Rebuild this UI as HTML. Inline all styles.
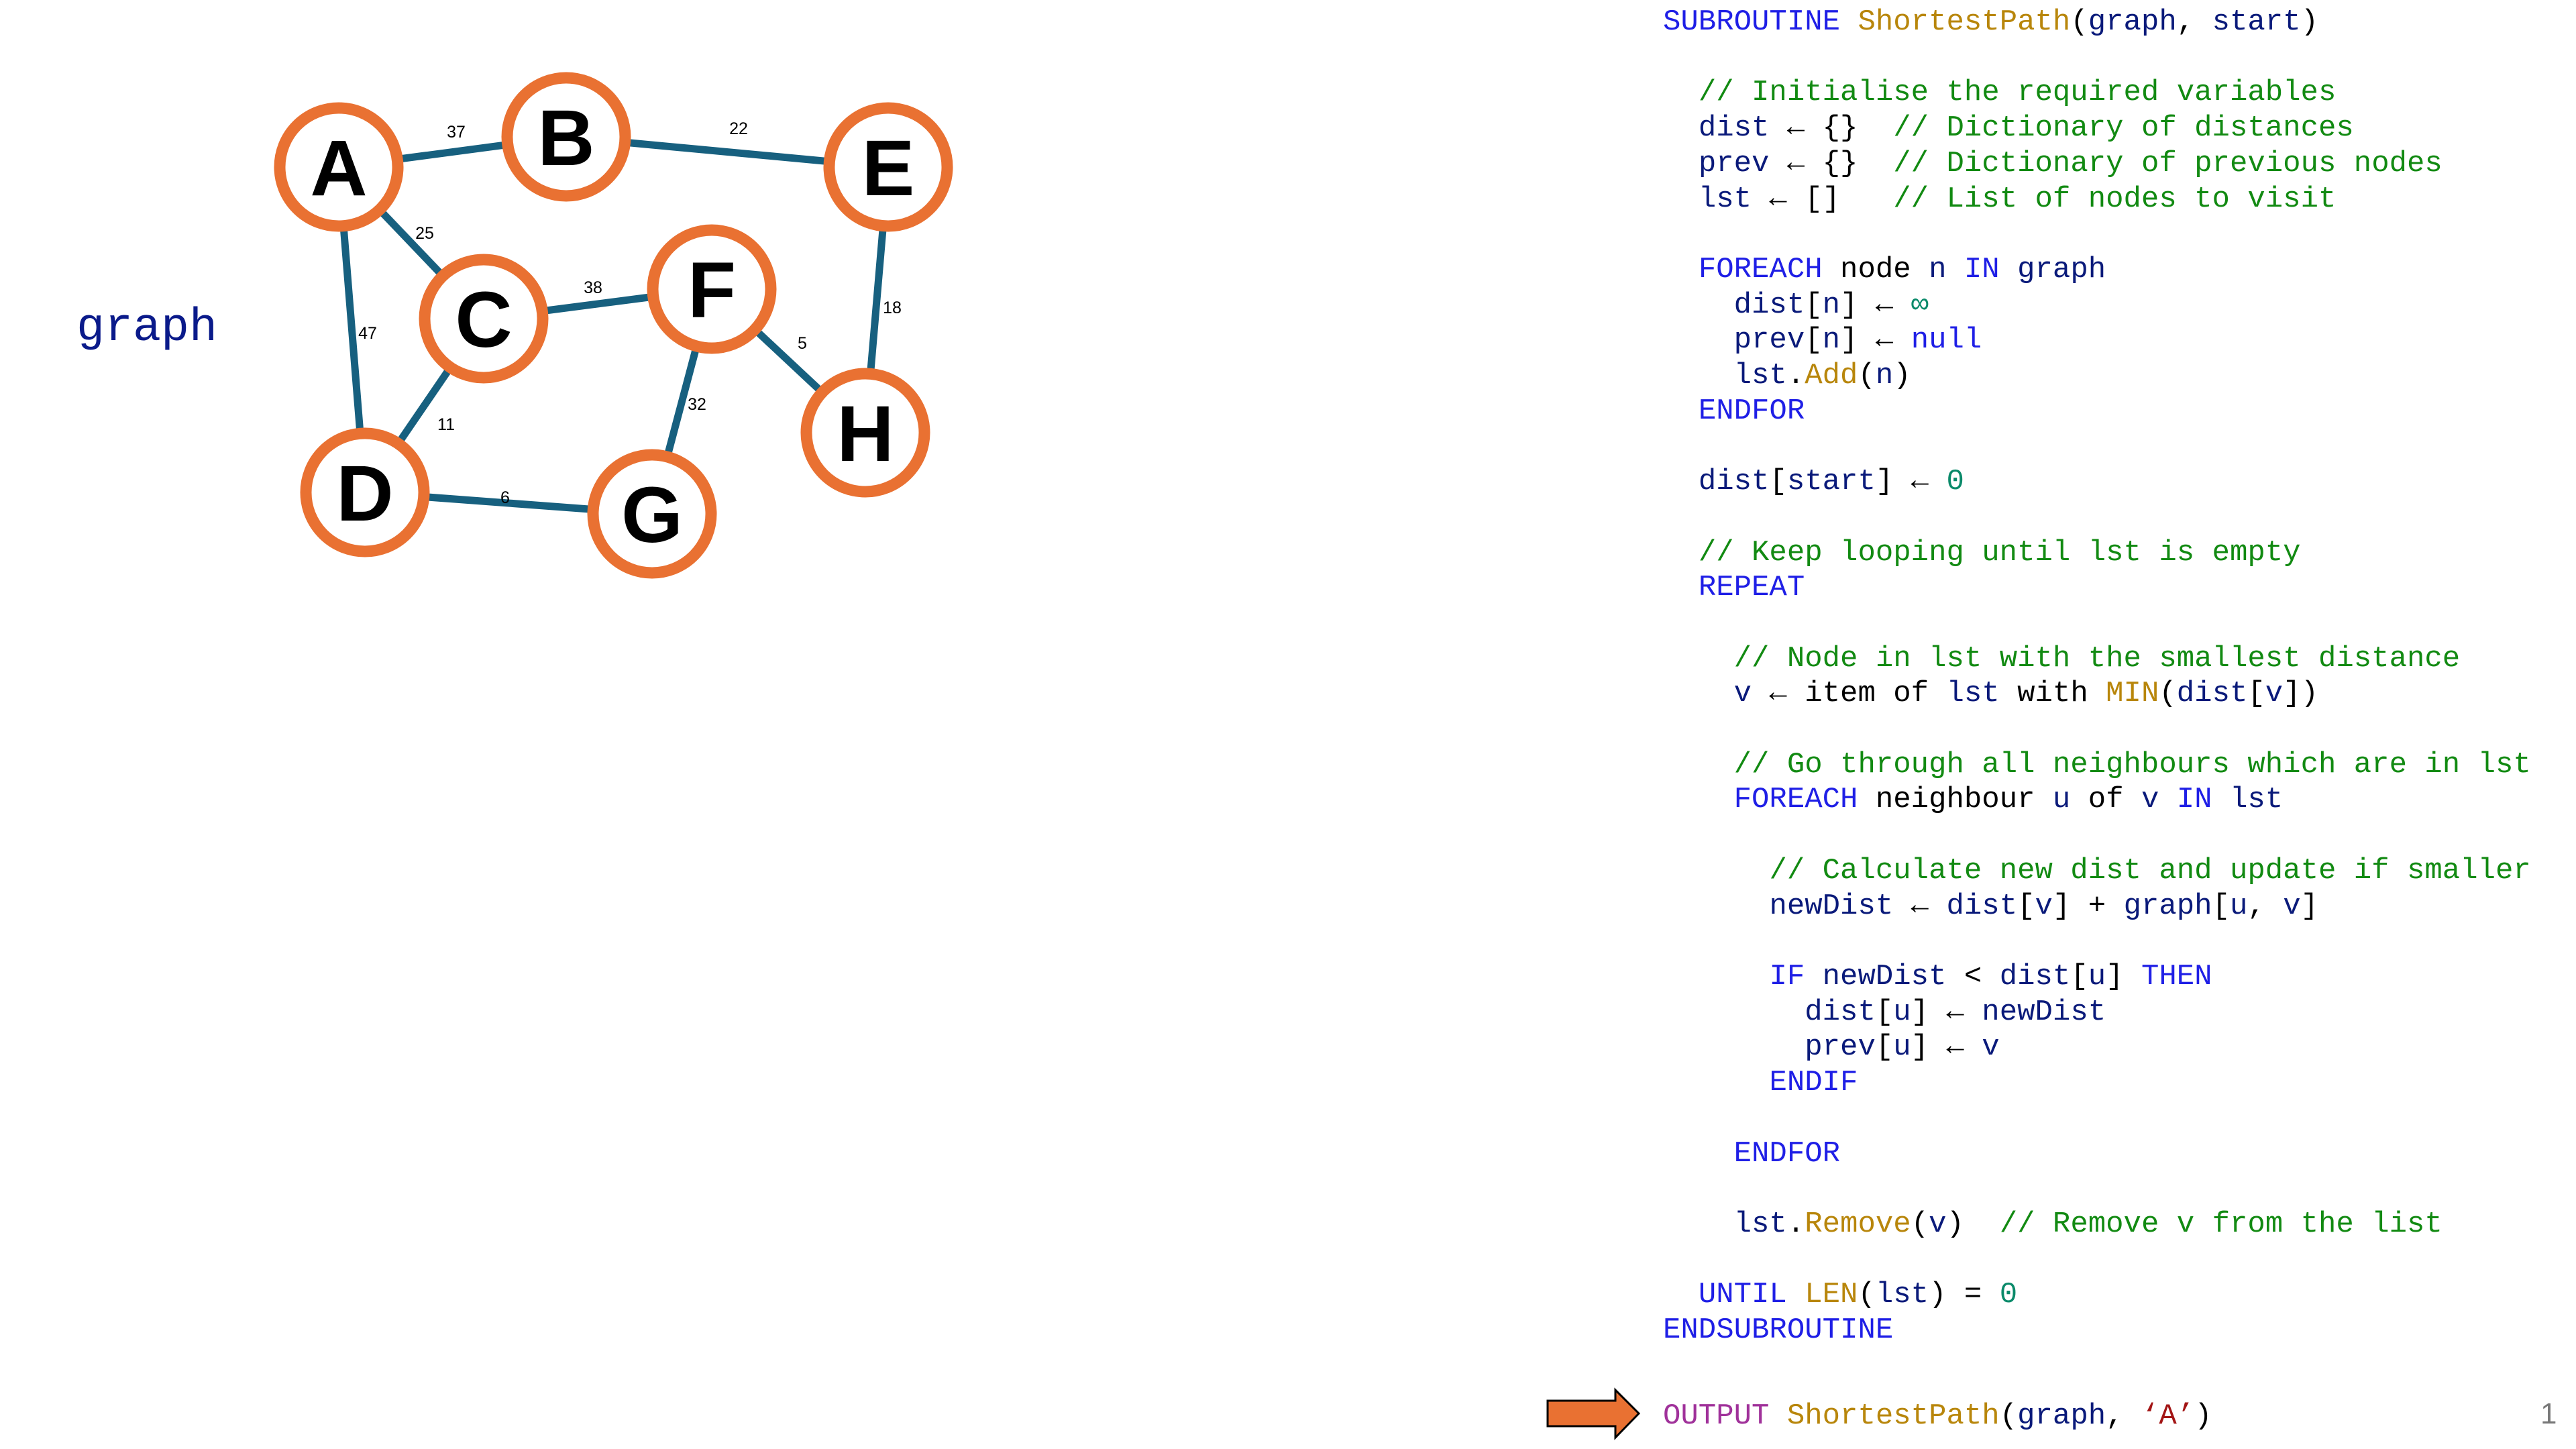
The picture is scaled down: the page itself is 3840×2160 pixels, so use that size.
<!DOCTYPE html>
<html><head><meta charset="utf-8"><style>
html,body{margin:0;padding:0;background:#fff;width:3840px;height:2160px;overflow:hidden;position:relative}
pre{position:absolute;left:2479px;top:7px;margin:0;font-family:"Liberation Mono",monospace;font-size:44px;line-height:52.7px;color:#000}
.k{color:#1f1fe6}.f{color:#b8860b}.i{color:#0a1a7a}.c{color:#128a12}.n{color:#0a8a6a}
.o{color:#a0319a}.s{color:#a31515}
#out{position:absolute;left:2479px;top:2085px;margin:0;font-family:"Liberation Mono",monospace;font-size:44px;line-height:53.2px;white-space:pre}
#pg{position:absolute;left:3787px;top:2083px;font-family:"Liberation Sans",sans-serif;font-size:44px;color:#777}
#gl{position:absolute;left:114px;top:450px;font-family:"Liberation Mono",monospace;font-size:70px;color:#0a1a8a}
svg{position:absolute;left:0;top:0}
</style></head><body>
<svg width="1500" height="900" viewBox="0 0 1500 900">
<g stroke="#17607f" stroke-width="11">
<line x1="505" y1="249" x2="844" y2="204"/>
<line x1="844" y1="204" x2="1324" y2="249"/>
<line x1="505" y1="249" x2="721" y2="475"/>
<line x1="505" y1="249" x2="544" y2="734"/>
<line x1="721" y1="475" x2="1061" y2="431"/>
<line x1="721" y1="475" x2="544" y2="734"/>
<line x1="1061" y1="431" x2="1290" y2="645"/>
<line x1="1061" y1="431" x2="972" y2="766"/>
<line x1="1324" y1="249" x2="1290" y2="645"/>
<line x1="544" y1="734" x2="972" y2="766"/>
</g>
<g fill="#fff" stroke="#e97132" stroke-width="17">
<circle cx="505" cy="249" r="88"/><circle cx="844" cy="204" r="88"/><circle cx="1324" cy="249" r="88"/>
<circle cx="721" cy="475" r="88"/><circle cx="1061" cy="431" r="88"/><circle cx="1290" cy="645" r="88"/>
<circle cx="544" cy="734" r="88"/><circle cx="972" cy="766" r="88"/>
</g>
<g font-family="Liberation Sans, sans-serif" font-weight="bold" font-size="118" text-anchor="middle" fill="#000">
<text x="505" y="291">A</text><text x="844" y="246">B</text><text x="1324" y="291">E</text>
<text x="721" y="517">C</text><text x="1061" y="473">F</text><text x="1290" y="687">H</text>
<text x="544" y="776">D</text><text x="972" y="808">G</text>
</g>
<g font-family="Liberation Sans, sans-serif" font-size="25" text-anchor="middle" fill="#000">
<text x="680" y="205">37</text><text x="1101" y="200">22</text><text x="633" y="356">25</text>
<text x="884" y="437">38</text><text x="548" y="505">47</text><text x="1330" y="467">18</text>
<text x="1196" y="520">5</text><text x="665" y="641">11</text><text x="1039" y="611">32</text>
<text x="753" y="750">6</text>
</g>
</svg>
<div id="gl">graph</div>
<pre><span class="k">SUBROUTINE</span> <span class="f">ShortestPath</span>(<span class="i">graph</span>, <span class="i">start</span>)

  <span class="c">// Initialise the required variables</span>
  <span class="i">dist</span> ← {}  <span class="c">// Dictionary of distances</span>
  <span class="i">prev</span> ← {}  <span class="c">// Dictionary of previous nodes</span>
  <span class="i">lst</span> ← []   <span class="c">// List of nodes to visit</span>

  <span class="k">FOREACH</span> node <span class="i">n</span> <span class="k">IN</span> <span class="i">graph</span>
    <span class="i">dist</span>[<span class="i">n</span>] ← <span class="n">∞</span>
    <span class="i">prev</span>[<span class="i">n</span>] ← <span class="k">null</span>
    <span class="i">lst</span>.<span class="f">Add</span>(<span class="i">n</span>)
  <span class="k">ENDFOR</span>

  <span class="i">dist</span>[<span class="i">start</span>] ← <span class="n">0</span>

  <span class="c">// Keep looping until lst is empty</span>
  <span class="k">REPEAT</span>

    <span class="c">// Node in lst with the smallest distance</span>
    <span class="i">v</span> ← item of <span class="i">lst</span> with <span class="f">MIN</span>(<span class="i">dist</span>[<span class="i">v</span>])

    <span class="c">// Go through all neighbours which are in lst</span>
    <span class="k">FOREACH</span> neighbour <span class="i">u</span> of <span class="i">v</span> <span class="k">IN</span> <span class="i">lst</span>

      <span class="c">// Calculate new dist and update if smaller</span>
      <span class="i">newDist</span> ← <span class="i">dist</span>[<span class="i">v</span>] + <span class="i">graph</span>[<span class="i">u</span>, <span class="i">v</span>]

      <span class="k">IF</span> <span class="i">newDist</span> &lt; <span class="i">dist</span>[<span class="i">u</span>] <span class="k">THEN</span>
        <span class="i">dist</span>[<span class="i">u</span>] ← <span class="i">newDist</span>
        <span class="i">prev</span>[<span class="i">u</span>] ← <span class="i">v</span>
      <span class="k">ENDIF</span>

    <span class="k">ENDFOR</span>

    <span class="i">lst</span>.<span class="f">Remove</span>(<span class="i">v</span>)  <span class="c">// Remove v from the list</span>

  <span class="k">UNTIL</span> <span class="f">LEN</span>(<span class="i">lst</span>) = <span class="n">0</span>
<span class="k">ENDSUBROUTINE</span></pre>
<svg width="3840" height="2160" style="pointer-events:none">
<polygon points="2307,2088 2408,2088 2408,2072 2443,2107 2408,2143 2408,2126 2307,2126" fill="#e97132" stroke="#000" stroke-width="3"/>
</svg>
<div id="out"><span class="o">OUTPUT</span> <span class="f">ShortestPath</span>(<span class="i">graph</span>, <span class="s">‘A’</span>)</div>
<div id="pg">1</div>
</body></html>
